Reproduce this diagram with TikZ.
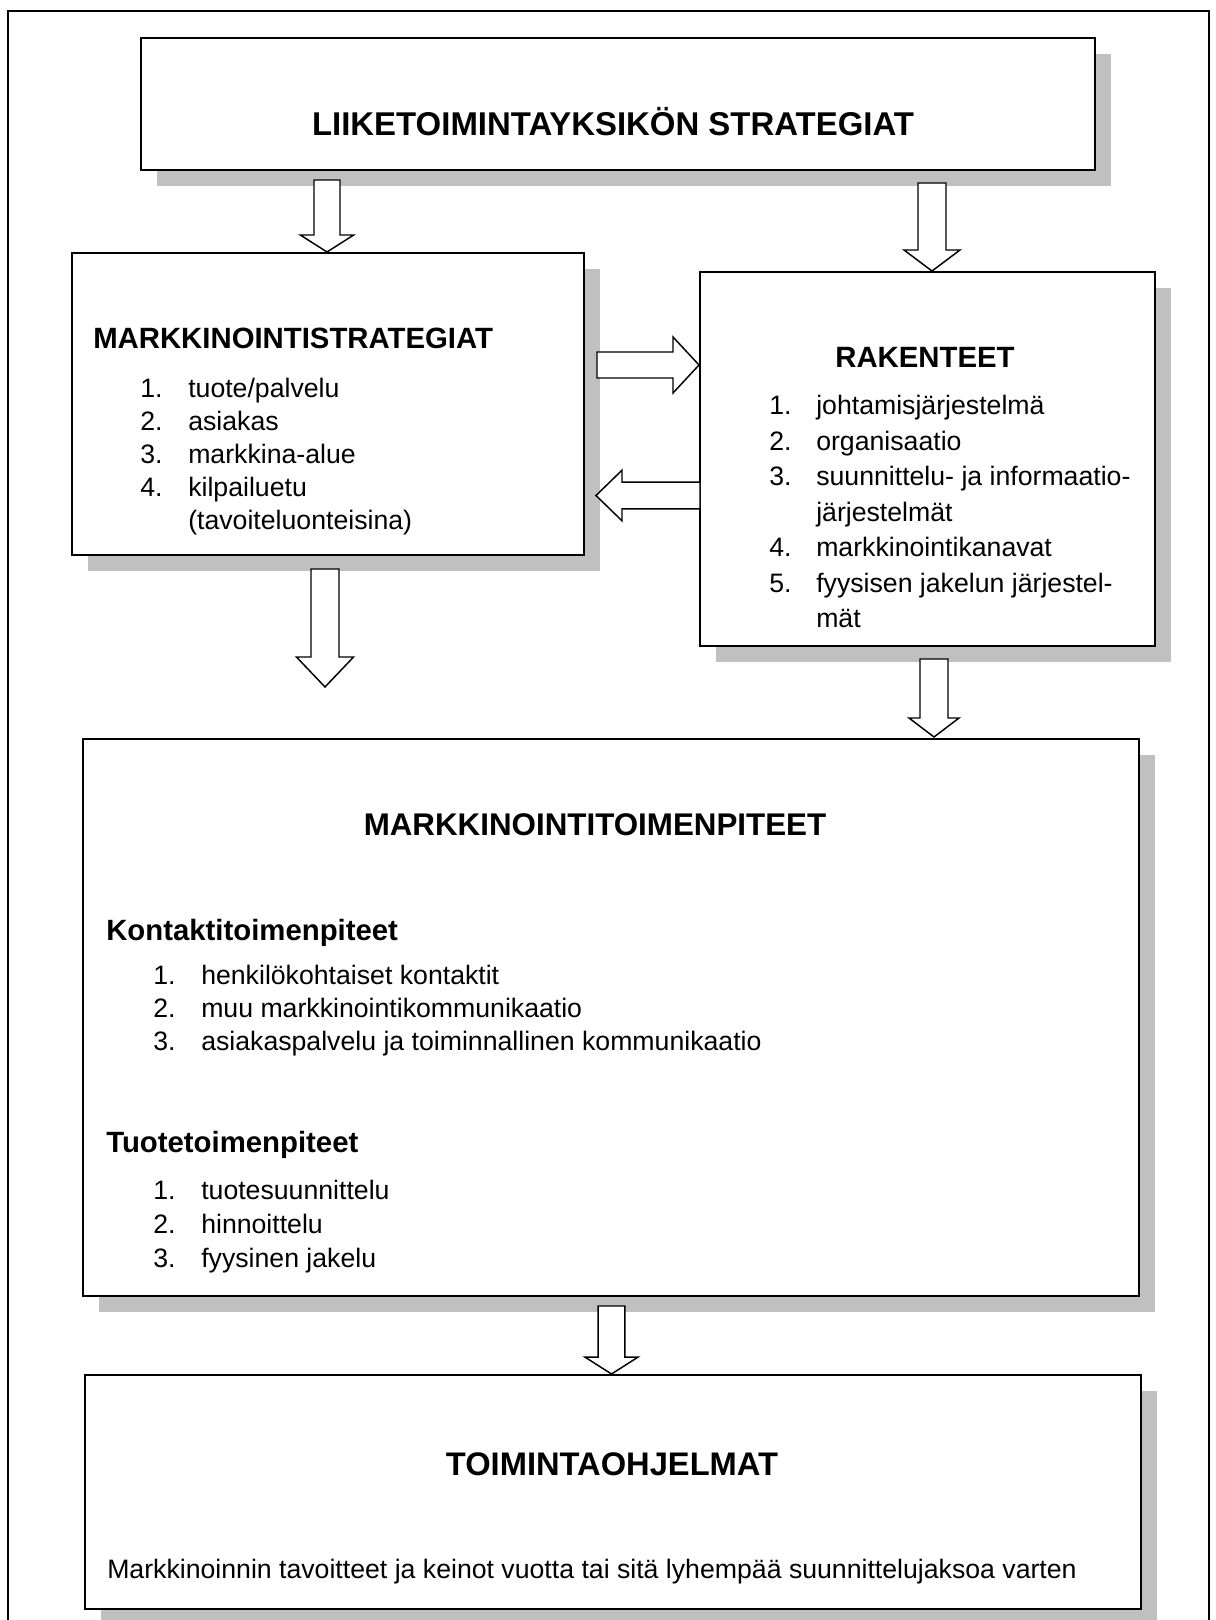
\documentclass[tikz,border=0pt]{standalone}
\usepackage{fontspec}
\setmainfont{Liberation Sans}
\usetikzlibrary{calc,shadows}
\definecolor{shadowgray}{HTML}{C0C0C0}
\newcommand\blockarrow[5]{%
  \coordinate (bab) at ($(#2)!#5!(#1)$);
  \draw[arrowshape] ($(#1)!#3!90:(#2)$) -- ($(bab)!#3!90:(#2)$) -- ($(bab)!#4!90:(#2)$) -- (#2)
    -- ($(bab)!#4!-90:(#2)$) -- ($(bab)!#3!-90:(#2)$) -- ($(#1)!#3!-90:(#2)$) -- cycle;
}
\begin{document}
\begin{tikzpicture}[x=0.75pt,y=-0.75pt,
  box/.style={draw=black, line width=1.5pt, fill=white, inner sep=0pt,
    drop shadow={shadow xshift=12pt, shadow yshift=-12pt, fill=shadowgray, opacity=1}},
  arrowshape/.style={draw=black, fill=white, line width=1.1pt, line join=miter},
  ttl/.style={inner sep=0pt, anchor=base},
  hdc/.style={font=\fontsize{22}{26}\selectfont\bfseries, inner sep=0pt, anchor=base},
  hdl/.style={font=\fontsize{22}{26}\selectfont\bfseries, inner sep=0pt, anchor=base west},
  itm/.style={font=\fontsize{20}{24}\selectfont, inner sep=0pt, anchor=base west}]
\useasboundingbox (0,0) rectangle (1216,1620);
% outer frame
\draw[line width=1.5pt] (8,1640) -- (8,11) -- (1209,11) -- (1209,1640);
% boxes
\node[box, minimum width=715.5pt, minimum height=99pt] (top) at (618,104) {};
\node[box, minimum width=384pt, minimum height=226.5pt] (mark) at (328,404) {};
\node[box, minimum width=341.25pt, minimum height=280.5pt] (rak) at (927.5,459) {};
\node[box, minimum width=792pt, minimum height=417.75pt] (big) at (611,1017.5) {};
\node[box, minimum width=792pt, minimum height=175.5pt] (toim) at (613,1492) {};
% texts
\node[ttl, font=\fontsize{24.7}{28}\selectfont\bfseries] (toptxt) at (613,135.5) {LIIKETOIMINTAYKSIKÖN STRATEGIAT};
\node[hdl] (markh) at (93,348.5) {MARKKINOINTISTRATEGIAT};
\node[itm] (m1n) at (140,397.5) {1.};
\node[itm] (m1t) at (188,397.5) {tuote/palvelu};
\node[itm] (m2n) at (140,430.5) {2.};
\node[itm] (m2t) at (188,430.5) {asiakas};
\node[itm] (m3n) at (140,463.5) {3.};
\node[itm] (m3t) at (188,463.5) {markkina-alue};
\node[itm] (m4n) at (140,496.5) {4.};
\node[itm] (m4t) at (188,496.5) {kilpailuetu};
\node[itm] (m5t) at (188,529.5) {(tavoiteluonteisina)};
\node[hdc] (rakh) at (925,367.5) {RAKENTEET};
\node[itm] (r1n) at (769,414.5) {1.};
\node[itm] (r1t) at (816,414.5) {johtamisjärjestelmä};
\node[itm] (r2n) at (769,450) {2.};
\node[itm] (r2t) at (816,450) {organisaatio};
\node[itm] (r3n) at (769,485.5) {3.};
\node[itm] (r3t) at (816,485.5) {suunnittelu- ja informaatio-};
\node[itm] (r3u) at (816,521) {järjestelmät};
\node[itm] (r4n) at (769,556.5) {4.};
\node[itm] (r4t) at (816,556.5) {markkinointikanavat};
\node[itm] (r5n) at (769,592) {5.};
\node[itm] (r5t) at (816,592) {fyysisen jakelun järjestel-};
\node[itm] (r5u) at (816,627.5) {mät};
\node[ttl, font=\fontsize{23.5}{28}\selectfont\bfseries] (bigh) at (595,835.5) {MARKKINOINTITOIMENPITEET};
\node[hdl] (konh) at (106,940.5) {Kontaktitoimenpiteet};
\node[itm] (k1n) at (153,984.5) {1.};
\node[itm] (k1t) at (201,984.5) {henkilökohtaiset kontaktit};
\node[itm] (k2n) at (153,1017.5) {2.};
\node[itm] (k2t) at (201,1017.5) {muu markkinointikommunikaatio};
\node[itm] (k3n) at (153,1050.5) {3.};
\node[itm] (k3t) at (201,1050.5) {asiakaspalvelu ja toiminnallinen kommunikaatio};
\node[hdl] (tuoh) at (106,1152.5) {Tuotetoimenpiteet};
\node[itm] (t1n) at (153,1199.5) {1.};
\node[itm] (t1t) at (201,1199.5) {tuotesuunnittelu};
\node[itm] (t2n) at (153,1233.5) {2.};
\node[itm] (t2t) at (201,1233.5) {hinnoittelu};
\node[itm] (t3n) at (153,1267.5) {3.};
\node[itm] (t3t) at (201,1267.5) {fyysinen jakelu};
\node[ttl, font=\fontsize{24.5}{28}\selectfont\bfseries] (toimh) at (612,1475.5) {TOIMINTAOHJELMAT};
\node[itm] (toimt) at (107,1578.5) {Markkinoinnin tavoitteet ja keinot vuotta tai sitä lyhempää suunnittelujaksoa varten};
% arrow anchor coordinates
\coordinate (aAs) at (327,180);
\coordinate (aAt) at (327,252);
\coordinate (aBs) at (932,183);
\coordinate (aBt) at (932,271);
\coordinate (aCs) at (597,365);
\coordinate (aCt) at (699,365);
\coordinate (aDs) at (700,495.5);
\coordinate (aDt) at (596,495.5);
\coordinate (aEs) at (325,569);
\coordinate (aEt) at (325,687);
\coordinate (aFs) at (934,659);
\coordinate (aFt) at (934,737);
\coordinate (aGs) at (611.5,1306);
\coordinate (aGt) at (611.5,1374);
% block arrows
\blockarrow{aAs}{aAt}{9.75pt}{20pt}{12.75pt}
\blockarrow{aBs}{aBt}{10.5pt}{21pt}{15.75pt}
\blockarrow{aCs}{aCt}{9.75pt}{21pt}{19.5pt}
\blockarrow{aDs}{aDt}{10pt}{19pt}{19.5pt}
\blockarrow{aEs}{aEt}{10.5pt}{21.4pt}{22.5pt}
\blockarrow{aFs}{aFt}{10.5pt}{18.75pt}{14.25pt}
\blockarrow{aGs}{aGt}{10pt}{20pt}{12.75pt}
\end{tikzpicture}
\end{document}
